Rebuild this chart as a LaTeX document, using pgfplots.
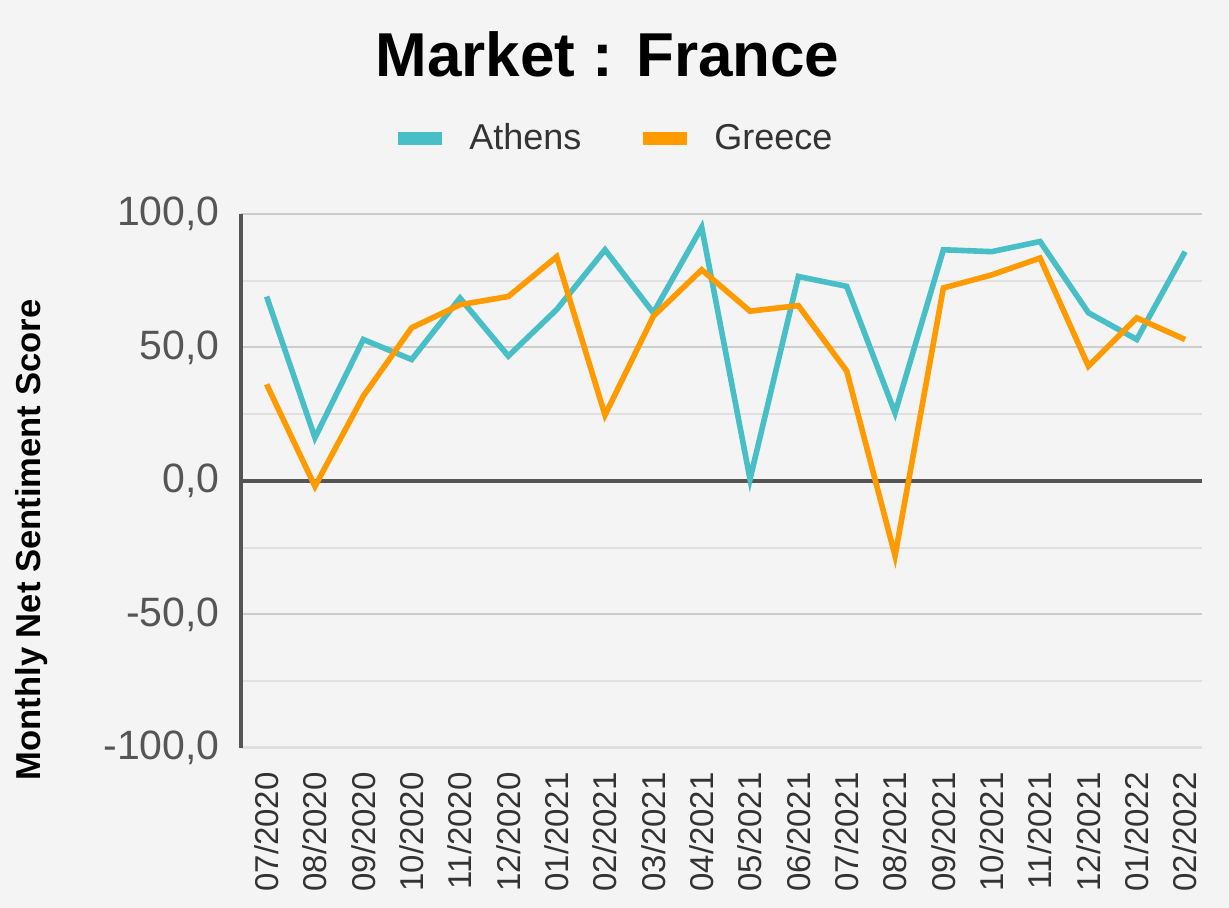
\documentclass[border=0pt]{standalone}
\usepackage{pgfplots}
\pgfplotsset{compat=1.18}
\usepackage{fontspec}
\setmainfont{Liberation Sans}
\definecolor{bgc}{HTML}{F4F4F4}
\definecolor{athens}{HTML}{48BEC6}
\definecolor{greece}{HTML}{FF9A00}
\definecolor{majg}{HTML}{CCCCCC}
\definecolor{ming}{HTML}{E0E0E0}
\definecolor{axg}{HTML}{555555}
\begin{document}
\begin{tikzpicture}
\useasboundingbox (0,0) rectangle (614.5bp,454bp);
\fill[bgc] (0,0) rectangle (614.5bp,454bp);
\begin{axis}[
  at={(120.5bp,80bp)}, anchor=south west,
  scale only axis, width=480.5bp, height=267bp,
  xmin=-0.53, xmax=19.35, ymin=-100, ymax=100,
  xtick={0,...,19},
  xticklabels={07/2020,08/2020,09/2020,10/2020,11/2020,12/2020,01/2021,02/2021,03/2021,04/2021,05/2021,06/2021,07/2021,08/2021,09/2021,10/2021,11/2021,12/2021,01/2022,02/2022},
  ytick={-100,-50,0,50,100},
  minor ytick={-75,-25,25,75},
  ymajorgrids, yminorgrids,
  major grid style={draw=majg, line width=1bp},
  minor grid style={draw=ming, line width=1bp},
  extra y ticks={0}, extra y tick labels={},
  extra y tick style={grid=major, major grid style={draw=axg, line width=1.6bp}},
  axis lines*=left,
  axis line style={-},
  x axis line style={draw=ming, line width=1.5bp},
  y axis line style={draw=axg, line width=2bp},
  major tick length=0pt, minor tick length=0pt,
  yticklabel style={font=\fontsize{20.5bp}{24bp}\selectfont, text=axg, inner sep=0pt, anchor=east, xshift=-10.5bp},
  xticklabel style={font=\fontsize{16.5bp}{20bp}\selectfont, text=black!80, yshift=-12bp, rotate=90, anchor=east, inner sep=0pt},
  /pgf/number format/.cd, fixed, fixed zerofill, precision=1, use comma, assume math mode=true,
  /pgfplots/.cd,
  legend columns=2,
  legend style={at={(rel axis cs:0.386,1.142)}, anchor=center, draw=none, fill=none,
    font=\fontsize{18bp}{22bp}\selectfont, text=black!80, inner sep=0pt,
    nodes={inner sep=0pt},
    /tikz/every odd column/.append style={column sep=10.5bp},
    /tikz/every even column/.append style={column sep=27.5bp}},
  legend image code/.code={\draw[line width=6.5bp] (0bp,0bp) -- (22bp,0bp);},
  clip=false,
]
\addplot[athens, line width=2.8bp, line join=miter] coordinates {
(0,69.1) (1,16.2) (2,53) (3,45.5) (4,68.5) (5,46.8) (6,64.2) (7,86.6) (8,63) (9,95)
(10,0.7) (11,76.6) (12,72.9) (13,25.5) (14,86.6) (15,85.9) (16,89.7) (17,63) (18,53) (19,85.9)};
\addlegendentry{Athens}
\addplot[greece, line width=2.8bp, line join=miter] coordinates {
(0,36.2) (1,-2) (2,31.8) (3,57.4) (4,66) (5,69.1) (6,84) (7,24.7) (8,61.7) (9,79.1)
(10,63.6) (11,65.7) (12,41.2) (13,-28) (14,72.3) (15,77.2) (16,83.5) (17,43) (18,61.1) (19,53)};
\addlegendentry{Greece}
\end{axis}
\node[anchor=base, font=\fontsize{31bp}{36bp}\selectfont\bfseries, inner sep=0pt] at (303.75bp,415.5bp) {Market : France};
\node[rotate=90, font=\fontsize{17.3bp}{20bp}\selectfont\bfseries, inner sep=0pt] at (15.75bp,184bp) {Monthly Net Sentiment Score};
\end{tikzpicture}
\end{document}
